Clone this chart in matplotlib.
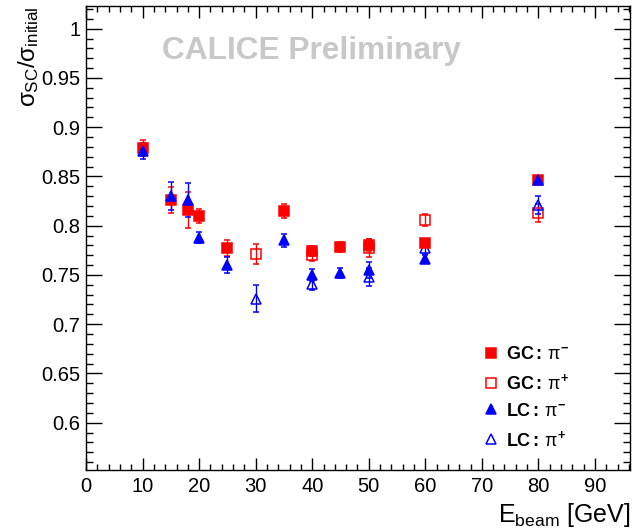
import matplotlib
matplotlib.use("Agg")
import matplotlib.pyplot as plt
from matplotlib.lines import Line2D
from matplotlib.ticker import MultipleLocator, FormatStrFormatter

plt.rcParams.update({"font.family": ["Liberation Sans", "DejaVu Sans"],
                     "mathtext.fontset": "custom",
                     "mathtext.rm": "Liberation Sans",
                     "mathtext.it": "Liberation Sans",
                     "mathtext.bf": "Liberation Sans:bold"})

# GC: pi-  (filled red squares)
gc_pim_e = [10, 15, 18, 20, 25, 35, 40, 45, 50, 60, 80]
gc_pim_r = [0.879, 0.826, 0.816, 0.810, 0.777, 0.815, 0.774, 0.778, 0.780, 0.782, 0.846]
gc_pim_err = [0.008, 0.013, 0.018, 0.007, 0.008, 0.007, 0.005, 0.005, 0.006, 0.004, 0.004]

# GC: pi+  (open red squares)
gc_pip_e = [30, 40, 50, 60, 80]
gc_pip_r = [0.771, 0.770, 0.777, 0.806, 0.813]
gc_pip_err = [0.010, 0.006, 0.009, 0.006, 0.009]

# LC: pi-  (filled blue triangles)
lc_pim_e = [10, 15, 18, 20, 25, 35, 40, 45, 50, 60, 80]
lc_pim_r = [0.876, 0.830, 0.826, 0.788, 0.760, 0.785, 0.750, 0.752, 0.755, 0.766, 0.846]
lc_pim_err = [0.008, 0.014, 0.017, 0.006, 0.008, 0.007, 0.006, 0.005, 0.008, 0.004, 0.004]

# LC: pi+  (open blue triangles)
lc_pip_e = [30, 40, 50, 60, 80]
lc_pip_r = [0.726, 0.741, 0.748, 0.777, 0.821]
lc_pip_err = [0.014, 0.006, 0.009, 0.006, 0.009]

RED, BLUE = "#ff0000", "#0000ff"

fig = plt.figure(figsize=(6.33, 5.31), dpi=100)
ax = fig.add_axes([0.1359, 0.1149, 0.8594, 0.8738])

series = [
    (gc_pip_e, gc_pip_r, gc_pip_err, "s", RED, "none", 6.5),
    (lc_pip_e, lc_pip_r, lc_pip_err, "^", BLUE, "none", 7),
    (gc_pim_e, gc_pim_r, gc_pim_err, "s", RED, RED, 6.5),
    (lc_pim_e, lc_pim_r, lc_pim_err, "^", BLUE, BLUE, 7),
]
for e, r, err, m, c, fc, ms in series:
    ax.errorbar(e, r, yerr=err, fmt=m, color=c, mfc=fc, mec=c, ms=ms,
                mew=1.1, elinewidth=1.0, capsize=2, capthick=1.0)

ax.set_xlim(0, 96.2)
ax.set_ylim(0.552, 1.023)
ax.xaxis.set_major_locator(MultipleLocator(10))
ax.xaxis.set_minor_locator(MultipleLocator(2))
ax.yaxis.set_major_locator(MultipleLocator(0.05))
ax.yaxis.set_minor_locator(MultipleLocator(0.01))
ax.yaxis.set_major_formatter(FormatStrFormatter("%g"))
ax.tick_params(which="both", direction="in", top=True, right=True,
               labelsize=14.5, width=1.0, colors="black")
ax.tick_params(axis="x", which="major", length=8.5, pad=5)
ax.tick_params(axis="x", which="minor", length=4)
ax.tick_params(axis="y", which="major", length=11.5, pad=4)
ax.tick_params(axis="y", which="minor", length=5)
for s in ax.spines.values():
    s.set_linewidth(1.0)

ax.set_xlabel(r"E$_{\mathrm{beam}}$ [GeV]", fontsize=18, loc="right", labelpad=4)
ax.set_ylabel(r"$\sigma_{\mathrm{SC}}/\sigma_{\mathrm{initial}}$", fontsize=17.5,
              loc="top", labelpad=0)

ax.text(0.14, 0.904, "CALICE Preliminary", transform=ax.transAxes,
        fontsize=22.8, fontweight="bold", color="#c8c8c8", va="center", ha="left")

handles = [
    Line2D([], [], ls="none", marker="s", ms=6.5, color=RED, mfc=RED, mew=1.1),
    Line2D([], [], ls="none", marker="s", ms=6.5, color=RED, mfc="none", mew=1.1),
    Line2D([], [], ls="none", marker="^", ms=7, color=BLUE, mfc=BLUE, mew=1.1),
    Line2D([], [], ls="none", marker="^", ms=7, color=BLUE, mfc="none", mew=1.1),
]
labels = [r"$\mathbf{GC:}\,\mathrm{\pi}^{\mathbf{-}}$", r"$\mathbf{GC:}\,\mathrm{\pi}^{\mathbf{+}}$",
          r"$\mathbf{LC:}\,\mathrm{\pi}^{\mathbf{-}}$", r"$\mathbf{LC:}\,\mathrm{\pi}^{\mathbf{+}}$"]
ax.legend(handles, labels, loc="upper left", bbox_to_anchor=(0.715, 0.283),
          frameon=False, fontsize=13, handlelength=1.0, handletextpad=0.3,
          labelspacing=0.55, borderaxespad=0)

fig.savefig("out.png", dpi=100)
